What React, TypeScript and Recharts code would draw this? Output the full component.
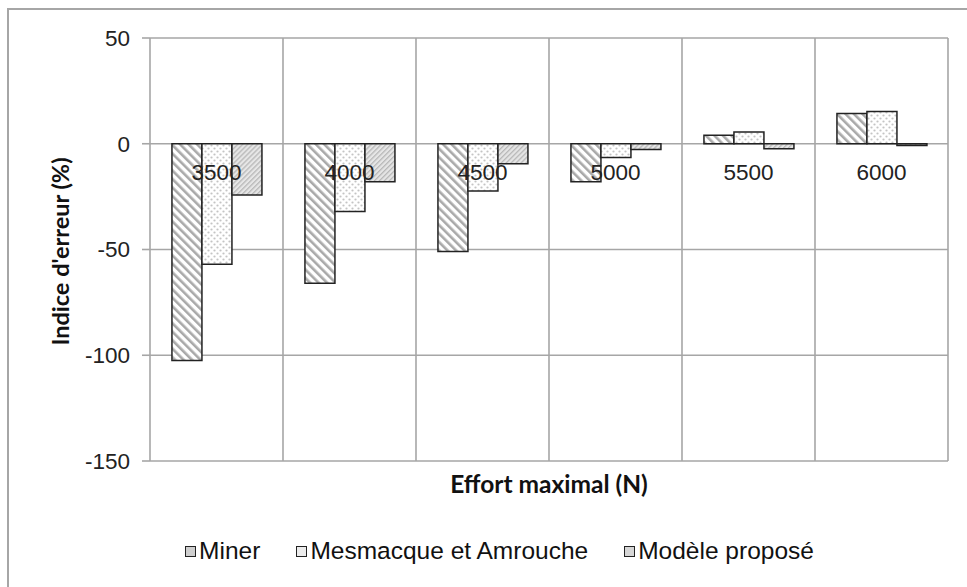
import React from 'react'
import { BarChart, Bar, XAxis, YAxis, CartesianGrid, Legend } from 'recharts'

const categories = ['3500', '4000', '4500', '5000', '5500', '6000']
const minerValues = [-102.5, -66, -51, -18, 4, 14.3]
const mesmacqueValues = [-57, -32, -22.3, -6.5, 5.5, 15.3]
const modeleValues = [-24.2, -18, -9.5, -2.7, -2.4, -0.8]
const yTicks = [50, 0, -50, -100, -150]

const seriesNames = ['Miner', 'Mesmacque et Amrouche', 'Modèle proposé']

const data = categories.map((cat, i) => ({
  cat,
  miner: minerValues[i],
  mesmacque: mesmacqueValues[i],
  modele: modeleValues[i],
}))

const W = 967
const H = 587
const M = { top: 38, right: 19, bottom: 96, left: 0 }
const Y_AXIS_W = 150
const X_AXIS_H = 30
const PLOT_TOP = M.top
const PLOT_H = H - M.top - M.bottom - X_AXIS_H
const ZERO_Y = PLOT_TOP + (PLOT_H * 50) / 200

const grey = '#a6a6a6'
const tickFont = "'Liberation Sans', Arial, sans-serif"
const titleFont = "Lato, 'Open Sans', sans-serif"

function CategoryTick(props: any) {
  const { x, payload } = props
  return (
    <text x={x} y={ZERO_Y + 36} textAnchor="middle" fontSize={22.5} fontFamily={tickFont} fill="#222">
      {payload.value}
    </text>
  )
}

// rotated y title, centred on the plot height
function YTitle(props: any) {
  const { viewBox } = props
  const cx = 60
  const cy = viewBox.y + viewBox.height / 2 + 2
  return (
    <text
      x={cx}
      y={cy}
      transform={`rotate(-90, ${cx}, ${cy})`}
      textAnchor="middle"
      dominantBaseline="central"
      fontFamily={titleFont}
      fontWeight={700}
      fontSize={23.5}
      fill="#111"
    >
      Indice d'erreur  (%)
    </text>
  )
}

function LegendContent() {
  const items = [
    { name: seriesNames[0], fill: '#cfcfcf' },
    { name: seriesNames[1], fill: '#ececec' },
    { name: seriesNames[2], fill: '#d6d6d6' },
  ]
  return (
    <div
      style={{
        display: 'flex',
        justifyContent: 'center',
        gap: 36,
        paddingLeft: 32,
        fontFamily: tickFont,
        fontSize: 24.5,
        color: '#111',
      }}
    >
      {items.map((it) => (
        <div key={it.name} style={{ display: 'flex', alignItems: 'center' }}>
          <span
            style={{
              display: 'inline-block',
              width: 9,
              height: 9,
              background: it.fill,
              border: '1.5px solid #222',
              marginRight: 3,
            }}
          />
          <span>{it.name}</span>
        </div>
      ))}
    </div>
  )
}

export default function App() {
  return (
    <div style={{ position: 'absolute', left: 0, top: 0, width: W, height: H, overflow: 'hidden', background: '#fff' }}>
      <div
        style={{
          position: 'absolute',
          left: 7,
          top: 8,
          width: 1000,
          height: 700,
          borderTop: `2px solid ${grey}`,
          borderLeft: `2px solid ${grey}`,
        }}
      />
      <div style={{ position: 'absolute', left: 0, top: 0 }}>
        <BarChart width={W} height={H} data={data} margin={M} barCategoryGap="16.5%" barGap={0}>
          <defs>
            <pattern id="patMiner" width="6" height="6" patternUnits="userSpaceOnUse" patternTransform="rotate(-45)">
              <rect width="6" height="6" fill="#ffffff" />
              <rect width="2.6" height="6" fill="#a9a9a9" />
            </pattern>
            <pattern id="patMes" width="6" height="6" patternUnits="userSpaceOnUse">
              <rect width="6" height="6" fill="#ffffff" />
              <circle cx="1.5" cy="1.5" r="1.1" fill="#c4c4c4" />
              <circle cx="4.5" cy="4.5" r="1.1" fill="#c4c4c4" />
            </pattern>
            <pattern id="patMod" width="3.5" height="3.5" patternUnits="userSpaceOnUse" patternTransform="rotate(45)">
              <rect width="3.5" height="3.5" fill="#e6e6e6" />
              <rect width="1.3" height="3.5" fill="#b8b8b8" />
            </pattern>
          </defs>
          <CartesianGrid
            stroke={grey}
            strokeWidth={1.6}
            verticalCoordinatesGenerator={({ offset }: any) =>
              categories.map((_, i) => offset.left + ((i + 1) * offset.width) / categories.length)
            }
          />
          <XAxis
            dataKey="cat"
            axisLine={false}
            tickLine={false}
            height={X_AXIS_H}
            tick={<CategoryTick />}
            interval={0}
            label={{
              value: 'Effort maximal  (N)',
              position: 'insideBottom',
              offset: -2,
              style: { fontFamily: titleFont, fontWeight: 700, fontSize: 24.5, fill: '#111' },
            }}
          />
          <YAxis
            width={Y_AXIS_W}
            domain={[-150, 50]}
            ticks={yTicks}
            interval={0}
            axisLine={{ stroke: grey, strokeWidth: 1.6 }}
            tickLine={{ stroke: grey, strokeWidth: 1.6 }}
            tickSize={8}
            tickMargin={12}
            tick={{ fontSize: 22.5, fontFamily: tickFont, fill: '#222' }}
            label={<YTitle />}
          />
          <Legend
            layout="horizontal"
            verticalAlign="middle"
            align="center"
            wrapperStyle={{ top: 537, left: 0, width: W }}
            content={<LegendContent />}
          />
          <Bar dataKey="miner" name={seriesNames[0]} fill="url(#patMiner)" stroke="#222" strokeWidth={1.5} isAnimationActive={false} />
          <Bar dataKey="mesmacque" name={seriesNames[1]} fill="url(#patMes)" stroke="#222" strokeWidth={1.5} isAnimationActive={false} />
          <Bar dataKey="modele" name={seriesNames[2]} fill="url(#patMod)" stroke="#222" strokeWidth={1.5} isAnimationActive={false} />
        </BarChart>
      </div>
    </div>
  )
}
